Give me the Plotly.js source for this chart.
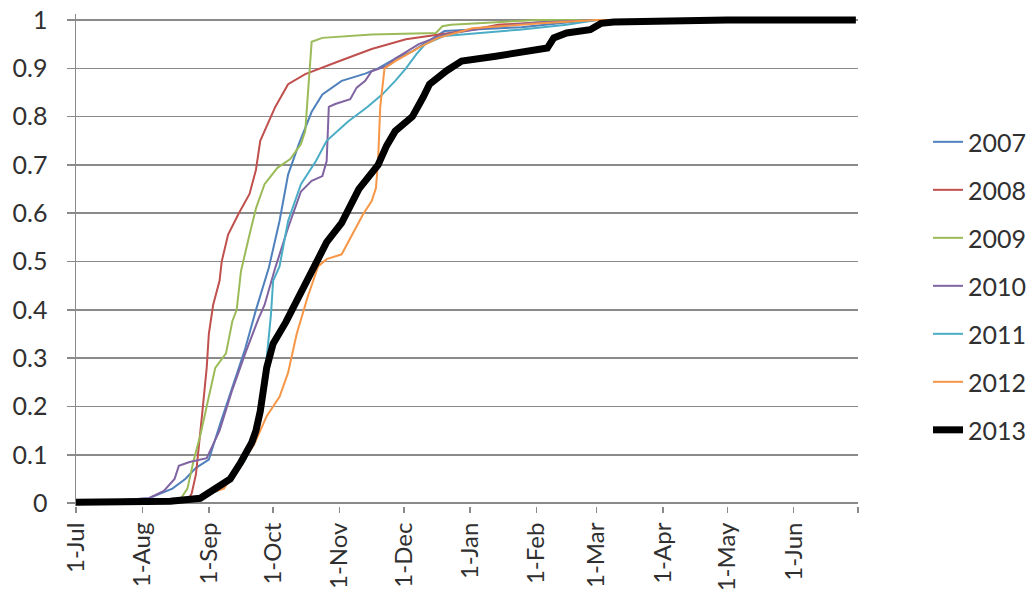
<!DOCTYPE html>
<html>
<head>
<meta charset="utf-8">
<script src="https://cdn.plot.ly/plotly-3.0.1.min.js"></script>
<style>
  html, body { margin: 0; padding: 0; background: #fff; }
  #chart { width: 1031px; height: 596px; }
</style>
</head>
<body>
<div id="chart"></div>
<script>
// Season runs 1-Jul to 30-Jun; dates are day-month, mapped onto one season for the axis
const tickDates = ['07-01', '08-01', '09-01', '10-01', '11-01', '12-01',
                   '01-01', '02-01', '03-01', '04-01', '05-01', '06-01', '07-01+'];
const tickLabels = ['1-Jul', '1-Aug', '1-Sep', '1-Oct', '1-Nov', '1-Dec',
                    '1-Jan', '1-Feb', '1-Mar', '1-Apr', '1-May', '1-Jun', ''];

const years = ['2007', '2008', '2009', '2010', '2011', '2012', '2013'];
const colors = ['#4F81BD', '#C0504D', '#9BBB59', '#8064A2', '#4BACC6', '#F79646', '#000000'];

const dates2007 = ['07-01', '08-04', '08-15', '08-21', '08-26', '09-01', '09-06', '09-12', '09-18', '09-23',
                   '09-29', '10-04', '10-08', '10-13', '10-16', '10-19', '10-24', '11-02', '11-13', '11-19',
                   '11-27', '12-05', '12-11', '12-20', '01-10', '01-25', '02-15', '03-01', '06-30'];
const vals2007 = [0, 0.01, 0.03, 0.05, 0.073, 0.09, 0.16, 0.24, 0.32, 0.40,
                  0.487, 0.584, 0.68, 0.743, 0.777, 0.81, 0.846, 0.874, 0.889, 0.90,
                  0.92, 0.935, 0.952, 0.977, 0.982, 0.985, 0.995, 1, 1];

const dates2008 = ['07-01', '08-20', '08-22', '08-24', '08-26', '08-27', '08-29', '08-31', '09-01', '09-03',
                   '09-06', '09-07', '09-10', '09-15', '09-20', '09-23', '09-25', '09-29', '10-02', '10-08',
                   '10-16', '11-01', '11-16', '12-02', '12-17', '01-02', '01-14', '02-10', '03-01', '06-30'];
const vals2008 = [0, 0.003, 0.005, 0.02, 0.06, 0.10, 0.19, 0.28, 0.35, 0.41,
                  0.46, 0.50, 0.556, 0.60, 0.64, 0.69, 0.75, 0.79, 0.82, 0.867,
                  0.888, 0.915, 0.94, 0.96, 0.97, 0.98, 0.99, 0.997, 1, 1];

const dates2009 = ['07-01', '08-16', '08-19', '08-22', '08-25', '08-28', '08-31', '09-04', '09-09', '09-12',
                   '09-14', '09-16', '09-20', '09-23', '09-27', '10-03', '10-09', '10-14', '10-16', '10-19',
                   '10-24', '11-16', '12-16', '12-19', '12-23', '01-15', '02-01', '06-30'];
const vals2009 = [0, 0.003, 0.01, 0.03, 0.09, 0.14, 0.20, 0.28, 0.31, 0.377,
                  0.40, 0.48, 0.556, 0.61, 0.66, 0.694, 0.712, 0.743, 0.77, 0.955,
                  0.963, 0.97, 0.973, 0.987, 0.99, 0.996, 1, 1];

const dates2010 = ['07-01', '08-04', '08-11', '08-16', '08-18', '08-23', '08-31', '09-06', '09-12', '09-18',
                   '09-24', '09-27', '10-02', '10-08', '10-14', '10-19', '10-24', '10-26', '10-27', '10-30',
                   '11-06', '11-09', '11-13', '11-16', '11-23', '11-27', '12-08', '12-20', '01-10', '02-01',
                   '03-01', '06-30'];
const vals2010 = [0, 0.01, 0.025, 0.05, 0.077, 0.085, 0.093, 0.15, 0.235, 0.31,
                  0.38, 0.41, 0.487, 0.57, 0.645, 0.667, 0.677, 0.708, 0.82, 0.826,
                  0.836, 0.86, 0.874, 0.894, 0.905, 0.92, 0.95, 0.97, 0.985, 0.995,
                  1, 1];

const dates2011 = ['07-01', '08-20', '09-05', '09-12', '09-18', '09-22', '09-24', '09-28', '09-30', '10-01',
                   '10-04', '10-08', '10-14', '10-21', '10-26', '11-05', '11-14', '11-21', '11-27', '12-02',
                   '12-07', '12-11', '12-20', '01-05', '01-24', '02-15', '03-01', '06-30'];
const vals2011 = [0, 0.004, 0.025, 0.05, 0.09, 0.14, 0.19, 0.30, 0.39, 0.46,
                  0.49, 0.584, 0.66, 0.708, 0.75, 0.79, 0.82, 0.846, 0.874, 0.90,
                  0.93, 0.95, 0.967, 0.973, 0.98, 0.99, 1, 1];

const dates2012 = ['07-01', '08-20', '09-08', '09-16', '09-22', '09-25', '09-28', '10-04', '10-08', '10-12',
                   '10-17', '10-22', '10-26', '11-02', '11-07', '11-12', '11-16', '11-18', '11-19', '11-20',
                   '11-22', '11-27', '12-03', '12-08', '12-17', '01-02', '02-03', '03-01', '06-30'];
const vals2012 = [0, 0.003, 0.03, 0.08, 0.12, 0.15, 0.18, 0.22, 0.27, 0.35,
                  0.425, 0.49, 0.505, 0.515, 0.556, 0.598, 0.625, 0.652, 0.71, 0.82,
                  0.90, 0.915, 0.93, 0.943, 0.963, 0.983, 0.993, 1, 1];

const dates2013 = ['07-01', '08-01', '08-14', '08-28', '09-06', '09-11', '09-16', '09-21', '09-23', '09-25',
                   '09-28', '10-01', '10-07', '10-12', '10-17', '10-26', '11-02', '11-10', '11-19', '11-23',
                   '11-27', '12-05', '12-10', '12-13', '12-21', '12-28', '01-13', '01-28', '02-06', '02-09',
                   '02-15', '02-26', '03-03', '03-09', '04-08', '05-01', '06-30'];
const vals2013 = [0.002, 0.003, 0.004, 0.01, 0.035, 0.05, 0.085, 0.125, 0.15, 0.19,
                  0.28, 0.33, 0.375, 0.42, 0.46, 0.54, 0.58, 0.65, 0.70, 0.74,
                  0.77, 0.80, 0.84, 0.867, 0.895, 0.915, 0.925, 0.935, 0.942, 0.963,
                  0.973, 0.98, 0.993, 0.996, 0.998, 1, 1];

const seriesDates = [dates2007, dates2008, dates2009, dates2010, dates2011, dates2012, dates2013];
const seriesVals = [vals2007, vals2008, vals2009, vals2010, vals2011, vals2012, vals2013];

// 'MM-DD' -> date in the plotting season (Jul-Dec 2013, Jan-Jun 2014)
function toDate(md) {
    if (md === '07-01+') return '2014-07-01';
    const m = parseInt(md.slice(0, 2), 10);
    return (m >= 7 ? '2013-' : '2014-') + md;
}

const gridGrey = '#8a8a8a';
const textColor = '#303030';
const fontFamily = 'Lato, "Liberation Sans", sans-serif';

// draw 2013 last so it sits on top
const traces = years.map((yr, i) => ({
    x: seriesDates[i].map(toDate),
    y: seriesVals[i],
    type: 'scatter',
    mode: 'lines',
    name: yr,
    legendgroup: yr,
    line: { color: colors[i], width: yr === '2013' ? 7 : 2 },
    hovertemplate: '<b>' + yr + '</b><br>%{x|%d-%b}: %{y}<extra></extra>'
}));

const layout = {
    width: 1031,
    height: 596,
    paper_bgcolor: '#ffffff',
    plot_bgcolor: '#ffffff',
    font: { family: fontFamily, color: textColor, size: 25 },
    margin: { l: 76, r: 173, t: 14, b: 90, autoexpand: false },
    showlegend: true,
    legend: {
        x: 1.0895, xanchor: 'left',
        y: 0.447, yanchor: 'middle',
        traceorder: 'grouped',
        tracegroupgap: 12.5,
        font: { size: 25, color: textColor, family: fontFamily },
        bgcolor: 'rgba(0,0,0,0)'
    },
    xaxis: {
        type: 'date',
        range: ['2013-07-01', '2014-07-01'],
        tickmode: 'array',
        tickvals: tickDates.map(toDate),
        ticktext: tickLabels,
        tickangle: -90,
        ticks: 'outside',
        ticklen: 6,
        tickwidth: 1.5,
        tickcolor: gridGrey,
        showgrid: false,
        showline: false,
        zeroline: false,
        tickfont: { size: 24, color: textColor, family: fontFamily }
    },
    yaxis: {
        range: [-0.006, 1.0124],
        tick0: 0,
        dtick: 0.1,
        ticks: 'outside',
        ticklen: 8,
        tickwidth: 1.5,
        tickcolor: gridGrey,
        showgrid: true,
        gridcolor: gridGrey,
        gridwidth: 1.5,
        zeroline: true,
        zerolinecolor: gridGrey,
        zerolinewidth: 1.5,
        showline: true,
        linecolor: gridGrey,
        linewidth: 1.5,
        ticklabelstandoff: 14,
        tickfont: { size: 25, color: textColor, family: fontFamily }
    }
};

Plotly.newPlot('chart', traces, layout, { displayModeBar: false, staticPlot: true });
</script>
</body>
</html>
